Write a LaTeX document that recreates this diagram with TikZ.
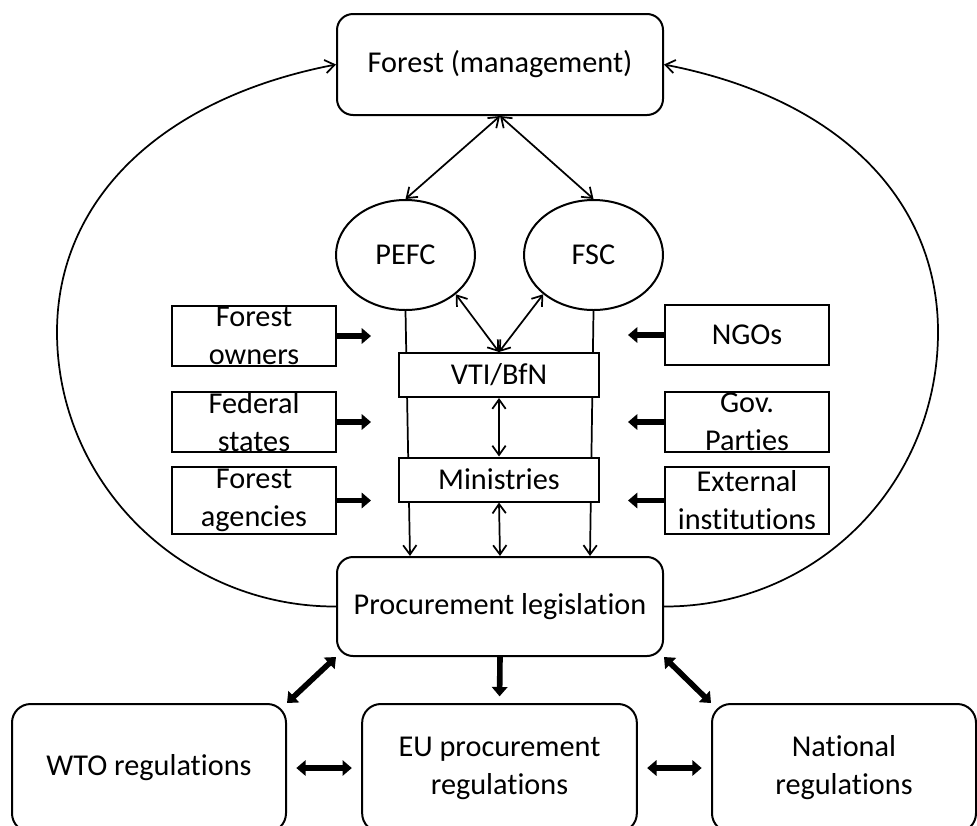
\documentclass[tikz,border=0pt]{standalone}
\usepackage{fontspec}
\setmainfont{Carlito}[Ligatures=NoCommon]
\usetikzlibrary{arrows.meta,calc,shapes.geometric,backgrounds}

\begin{document}
\begin{tikzpicture}[x=0.75pt,y=-0.75pt,>={Straight Barb[length=7pt,width=10pt]},
  font=\fontsize{22.7}{28.5}\selectfont,
  rbox/.style={draw,line width=1.5pt,rounded corners=12pt,fill=white,align=center,inner sep=0pt},
  sbox/.style={draw,line width=1.5pt,fill=white,inner sep=0pt,minimum width=150pt,minimum height=33pt},
  actor/.style={draw,line width=1.5pt,inner sep=0pt,minimum width=123pt,minimum height=45pt},
  cert/.style={draw,ellipse,line width=1.5pt,fill=white,inner sep=0pt,minimum width=104.25pt,minimum height=82.5pt},
  link/.style={line width=1.3pt},
  push/.style={line width=4.2pt,-{Triangle[length=7pt,width=11.5pt]}},
  dpush/.style={line width=4.2pt,{Triangle[length=7pt,width=11.5pt]}-{Triangle[length=7pt,width=11.5pt]}}]
\useasboundingbox (0,0) rectangle (977,825);

% Top and centre
\node[rbox,minimum width=244.5pt,minimum height=75.75pt] (forest) at (500,64.5) {Forest (management)};
\node[cert] (pefc) at (405.5,255) {PEFC};
\node[cert] (fsc) at (593.5,255) {FSC};
\node[sbox] (vti) at (499,375) {VTI/BfN};
\node[sbox] (min) at (499,479.5) {Ministries};
\node[rbox,minimum width=244.5pt,minimum height=74.25pt] (proc) at (500,606.5) {Procurement legislation};

% Actors on both sides
\node[actor,label={[align=center]center:Forest\\owners}] (owners) at (254,336) {};
\node[actor,label={[align=center]center:Federal\\states}] (fedstates) at (254,422) {};
\node[actor,minimum height=50.25pt,label={[align=center]center:Forest\\agencies}] (agencies) at (254,500.5) {};
\node[actor,label={[align=center]center:NGOs}] (ngos) at (747,335) {};
\node[actor,label={[align=center]center:Gov.\\Parties}] (parties) at (747,422) {};
\node[actor,minimum height=50.25pt,label={[align=center]center:External\\institutions}] (external) at (747,500.5) {};

% Regulations
\node[rbox,rounded corners=14pt,minimum width=205.5pt,minimum height=96pt] (wto) at (149,768) {WTO regulations};
\node[rbox,rounded corners=14pt,minimum width=206pt,minimum height=96pt] (eu) at (499.5,768) {EU procurement\\regulations};
\node[rbox,rounded corners=14pt,minimum width=198pt,minimum height=96pt] (nat) at (844,768) {National\\regulations};

% Thin links
\draw[link,<->] (forest.south) -- (pefc.north);
\draw[link,<->] (forest.south) -- (fsc.north);
\draw[link,<->] (pefc.-38) -- (vti.north);
\draw[link,<->] (fsc.-142) -- (vti.north);
\draw[link,<->] (vti.south) -- (min.north);
\draw[link,<->] (min.south) -- (proc.north);
\begin{scope}[on background layer]
\draw[link,->] (pefc.south) -- ($(proc.north)+(-90,0)$);
\draw[link,->] (fsc.south) -- ($(proc.north)+(90,0)$);
\end{scope}

% Feedback loops
\draw[link,->] (proc.west) .. controls (183,607) and (57,484) .. (57,332)
  .. controls (57,202) and (158,99) .. (forest.west);
\draw[link,->] (proc.east) .. controls (817,607) and (938,484) .. (938,332)
  .. controls (938,202) and (842,99) .. (forest.east);

% Influence arrows
\foreach \n in {owners,fedstates,agencies}
\draw[push] (\n.east) -- ++(34,0);
\foreach \n in {ngos,parties,external}
\draw[push] (\n.west) -- ++(-36,0);

% Regulation arrows
\draw[dpush] (proc.south west) -- (wto.north east);
\draw[push,shorten >=5pt] (proc.south) -- (eu.north);
\draw[dpush] (proc.south east) -- (nat.north west);
\draw[dpush,shorten <=7pt,shorten >=7pt] (wto.east) -- (eu.west);
\draw[dpush,shorten <=7pt,shorten >=7pt] (eu.east) -- (nat.west);
\end{tikzpicture}
\end{document}
